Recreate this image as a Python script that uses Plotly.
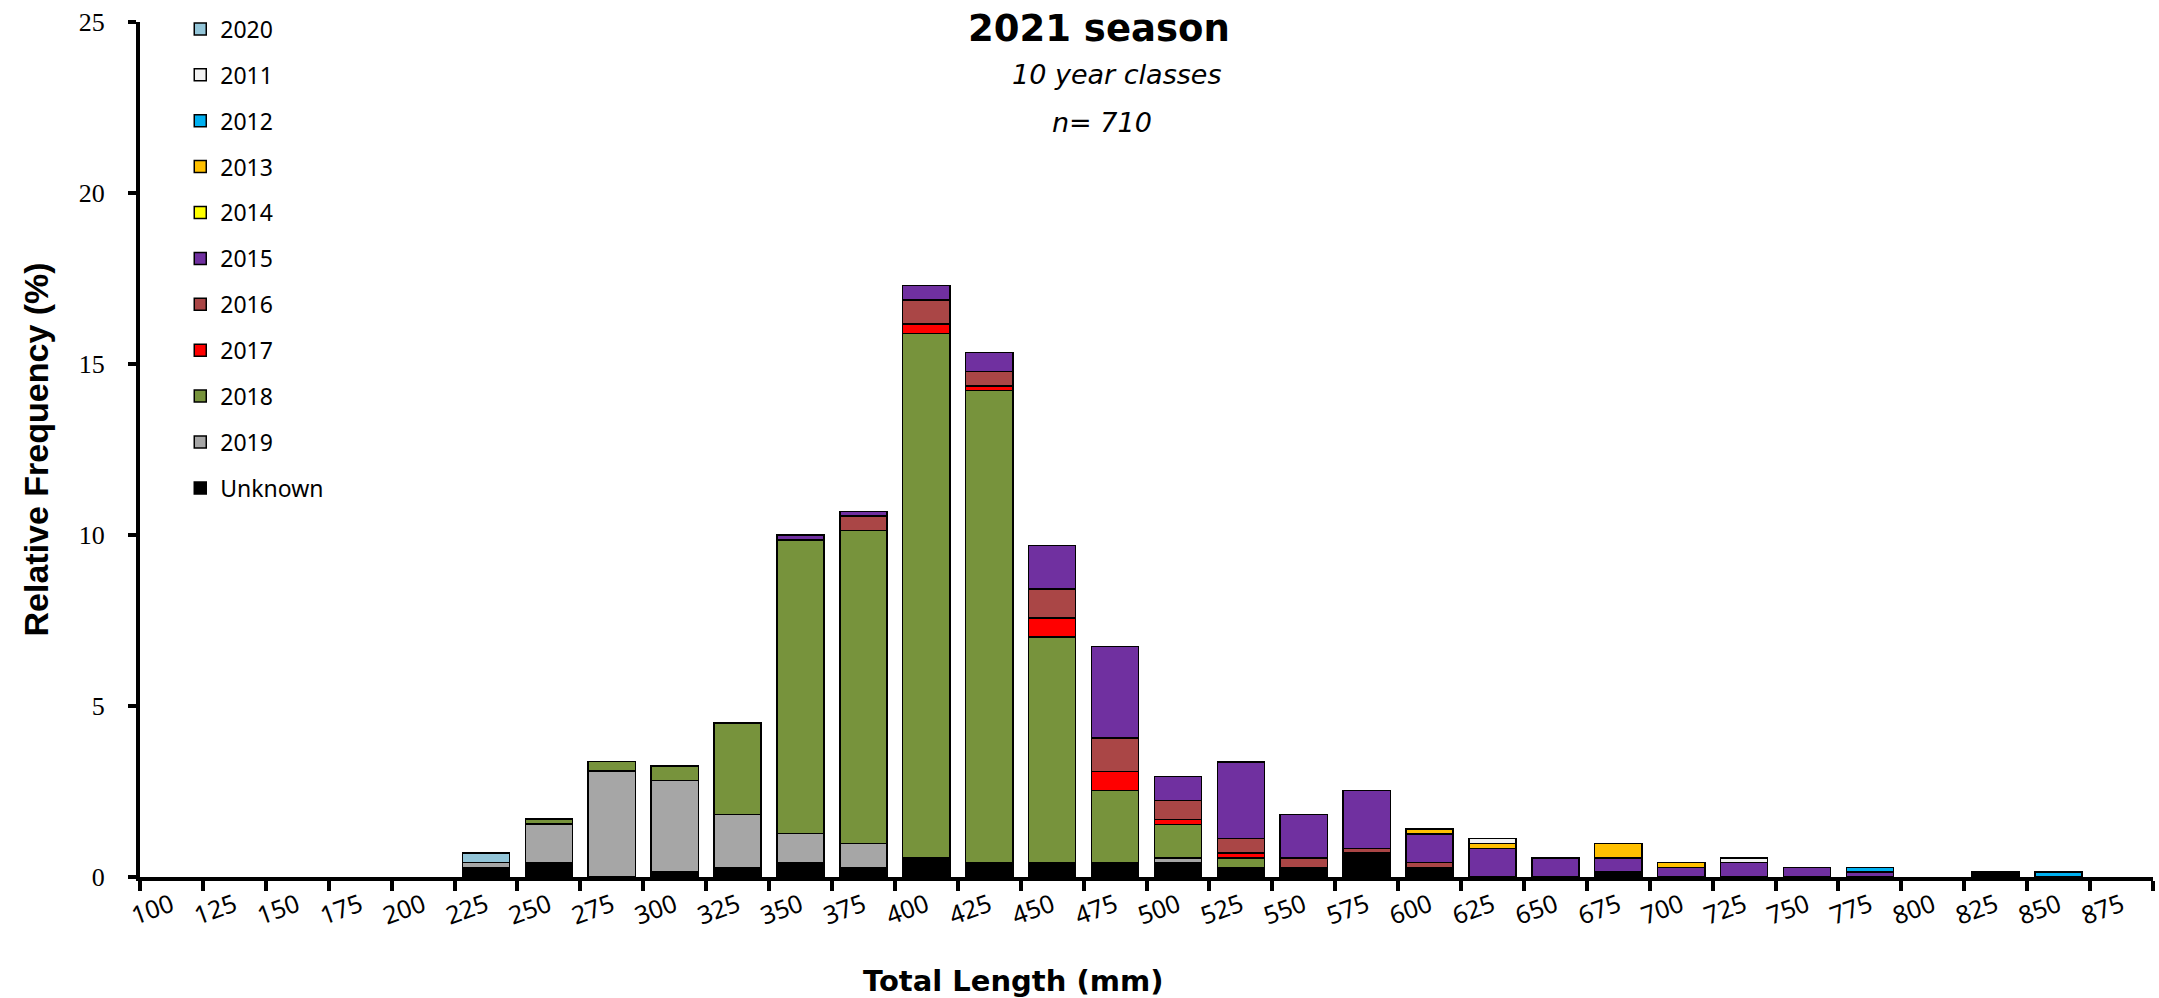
import plotly.graph_objects as go

categories = ["100", "125", "150", "175", "200", "225", "250", "275", "300", "325",
              "350", "375", "400", "425", "450", "475", "500", "525", "550", "575",
              "600", "625", "650", "675", "700", "725", "750", "775", "800", "825",
              "850", "875"]

unknown = [0, 0, 0, 0, 0, 0.28, 0.42, 0, 0.14, 0.28,
           0.42, 0.28, 0.56, 0.42, 0.42, 0.42, 0.42, 0.28, 0.28, 0.70,
           0.28, 0, 0, 0.14, 0, 0, 0, 0, 0, 0.14,
           0, 0]
y2019 = [0, 0, 0, 0, 0, 0.14, 1.13, 3.10, 2.68, 1.55,
         0.85, 0.70, 0, 0, 0, 0, 0.14, 0, 0, 0,
         0, 0, 0, 0, 0, 0, 0, 0, 0, 0,
         0, 0]
y2018 = [0, 0, 0, 0, 0, 0, 0.14, 0.28, 0.42, 2.68,
         8.59, 9.15, 15.33, 13.80, 6.60, 2.11, 0.98, 0.28, 0, 0,
         0, 0, 0, 0, 0, 0, 0, 0, 0, 0,
         0, 0]
y2017 = [0, 0, 0, 0, 0, 0, 0, 0, 0, 0,
         0, 0, 0.28, 0.14, 0.56, 0.56, 0.14, 0.14, 0, 0,
         0, 0, 0, 0, 0, 0, 0, 0, 0, 0,
         0, 0]
y2016 = [0, 0, 0, 0, 0, 0, 0, 0, 0, 0,
         0, 0.42, 0.70, 0.42, 0.84, 0.98, 0.56, 0.42, 0.28, 0.14,
         0.14, 0, 0, 0, 0, 0, 0, 0, 0, 0,
         0, 0]
y2015 = [0, 0, 0, 0, 0, 0, 0, 0, 0, 0,
         0.14, 0.14, 0.42, 0.56, 1.27, 2.67, 0.70, 2.25, 1.27, 1.69,
         0.84, 0.84, 0.56, 0.42, 0.28, 0.42, 0.28, 0.14, 0, 0,
         0, 0]
y2014 = [0, 0, 0, 0, 0, 0, 0, 0, 0, 0,
         0, 0, 0, 0, 0, 0, 0, 0, 0, 0,
         0, 0, 0, 0, 0, 0, 0, 0, 0, 0,
         0, 0]
y2013 = [0, 0, 0, 0, 0, 0, 0, 0, 0, 0,
         0, 0, 0, 0, 0, 0, 0, 0, 0, 0,
         0.14, 0.14, 0, 0.42, 0.14, 0, 0, 0, 0, 0,
         0, 0]
y2012 = [0, 0, 0, 0, 0, 0, 0, 0, 0, 0,
         0, 0, 0, 0, 0, 0, 0, 0, 0, 0,
         0, 0, 0, 0, 0, 0, 0, 0.14, 0, 0,
         0.14, 0]
y2011 = [0, 0, 0, 0, 0, 0, 0, 0, 0, 0,
         0, 0, 0, 0, 0, 0, 0, 0, 0, 0,
         0, 0.14, 0, 0, 0, 0.14, 0, 0, 0, 0,
         0, 0]
y2020 = [0, 0, 0, 0, 0, 0.28, 0, 0, 0, 0,
         0, 0, 0, 0, 0, 0, 0, 0, 0, 0,
         0, 0, 0, 0, 0, 0, 0, 0, 0, 0,
         0, 0]

# stacking order bottom -> top
series = [
    ("Unknown", unknown, "#000000"),
    ("2019", y2019, "#A6A6A6"),
    ("2018", y2018, "#77933C"),
    ("2017", y2017, "#FF0000"),
    ("2016", y2016, "#AA4646"),
    ("2015", y2015, "#7030A0"),
    ("2014", y2014, "#FFFF00"),
    ("2013", y2013, "#FFC000"),
    ("2012", y2012, "#00B0F0"),
    ("2011", y2011, "#F2F2F2"),
    ("2020", y2020, "#93C5D8"),
]

fig = go.Figure()
n = len(series)
for i, (name, vals, color) in enumerate(series):
    fig.add_trace(go.Bar(
        x=categories,
        y=[v if v else None for v in vals],
        name=name,
        legendgroup=name,
        legendrank=(n - i) * 10,
        marker=dict(color=color, line=dict(color="#000000", width=1.5)),
    ))

L, R, T, B = 140, 6, 22, 121
W, H = 2159, 998

def px_x(x):
    return x - L

annotations = [
    dict(text="<b>2021 season</b>", xref="paper", yref="paper", x=0, y=1,
         xshift=px_x(1099), yshift=-6.5, xanchor="center", yanchor="middle",
         showarrow=False, font=dict(family="DejaVu Sans", size=37, color="black")),
    dict(text="<i>10 year classes</i>", xref="paper", yref="paper", x=0, y=1,
         xshift=px_x(1116), yshift=-52, xanchor="center", yanchor="middle",
         showarrow=False, font=dict(family="DejaVu Sans", size=27, color="black")),
    dict(text="<i>n= 710</i>", xref="paper", yref="paper", x=0, y=1,
         xshift=px_x(1102), yshift=-100, xanchor="center", yanchor="middle",
         showarrow=False, font=dict(family="DejaVu Sans", size=27, color="black")),
    dict(text="<b>Total Length (mm)</b>", xref="paper", yref="paper", x=0, y=0,
         xshift=px_x(1013), yshift=-(981 - 877), xanchor="center", yanchor="middle",
         showarrow=False, font=dict(family="DejaVu Sans", size=29, color="black")),
    dict(text="<b>Relative Frequency (%)</b>", xref="paper", yref="paper", x=0, y=0.5,
         xshift=35 - L, xanchor="center", yanchor="middle", textangle=-90,
         showarrow=False, font=dict(family="Liberation Sans", size=34, color="black")),
]

fig.update_layout(
    width=W, height=H,
    margin=dict(l=L, r=R, t=T, b=B, pad=0),
    plot_bgcolor="white", paper_bgcolor="white",
    barmode="stack", bargap=0.25,
    showlegend=True,
    legend=dict(
        x=0.02, y=1.017, xanchor="left", yanchor="top",
        traceorder="grouped", tracegroupgap=13, maxheight=1,
        font=dict(family="Noto Sans", size=23, color="black"),
        bgcolor="rgba(0,0,0,0)",
    ),
    annotations=annotations,
    xaxis=dict(
        type="category", range=[-0.5, 31.5],
        showline=True, linecolor="black", linewidth=4,
        ticks="outside", tickson="boundaries", ticklen=10, tickwidth=4, tickcolor="black",
        tickangle=-20,
        tickfont=dict(family="Noto Sans", size=25, color="black"),
        showgrid=False, zeroline=False,
    ),
    yaxis=dict(
        range=[0, 25], tickvals=[0, 5, 10, 15, 20, 25],
        showline=True, linecolor="black", linewidth=4,
        ticks="outside", ticklen=8, tickwidth=4, tickcolor="black",
        ticklabelstandoff=18,
        tickfont=dict(family="Liberation Serif", size=26, color="black"),
        showgrid=False, zeroline=False,
    ),
)

fig.write_html("out.html", config={"displayModeBar": False},
               post_script="document.body.style.margin='0';document.body.style.overflow='hidden';")
